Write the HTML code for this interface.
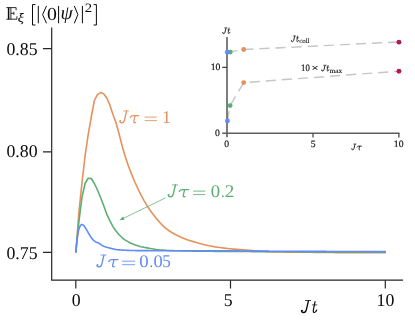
<!DOCTYPE html>
<html><head><meta charset="utf-8">
<style>
html,body{margin:0;padding:0;background:#fff;}
svg{display:block;}
text{font-family:"Liberation Serif",serif;text-rendering:geometricPrecision;}
.i{font-style:italic;}
</style></head>
<body>
<svg width="415" height="323" viewBox="0 0 415 323">
<defs><filter id="f" x="0" y="0" width="415" height="323" filterUnits="userSpaceOnUse"><feOffset dx="0" dy="0"/></filter></defs>
<rect width="415" height="323" fill="#fff"/>
<g filter="url(#f)">

<!-- main axes spines -->
<g stroke="#262626" stroke-width="1.2" fill="none" stroke-linecap="butt">
  <path d="M51.7,27.6 V280.2 H403.1"/>
  <path d="M43,48.7 H51.7 M43,151.8 H51.7 M43,252.3 H51.7"/>
  <path d="M75.8,280.2 V288.4 M230.5,280.2 V288.4 M385.3,280.2 V288.4"/>
</g>

<!-- curves -->
<g fill="none" stroke-width="1.6" stroke-linejoin="round" stroke-linecap="butt">
  <path stroke="#e5915c" d="M75.80,252.30 L78.89,212.30 L81.99,182.50 L85.08,156.00 L88.18,134.70 L91.28,117.00 L94.37,100.50 L97.47,94.60 L100.56,92.60 L103.66,93.70 L106.75,98.00 L109.84,105.00 L112.94,114.50 L116.03,122.69 L119.13,134.00 L122.22,146.24 L125.32,156.74 L128.41,166.03 L131.51,174.16 L134.61,181.50 L137.70,188.26 L140.80,194.58 L143.89,200.39 L146.99,205.59 L150.08,210.26 L153.18,214.49 L156.27,218.36 L159.37,222.01 L162.46,225.34 L165.56,228.16 L168.65,230.48 L171.75,232.49 L174.84,234.25 L177.94,235.83 L181.03,237.24 L184.12,238.50 L187.22,239.64 L190.31,240.67 L193.41,241.63 L196.50,242.55 L199.60,243.44 L202.69,244.29 L205.79,245.04 L208.88,245.72 L211.98,246.32 L215.07,246.86 L218.17,247.33 L221.26,247.75 L224.36,248.14 L227.45,248.49 L230.55,248.82 L233.64,249.13 L236.74,249.42 L239.83,249.67 L242.93,249.91 L246.03,250.15 L249.12,250.39 L252.22,250.63 L255.31,250.85 L258.41,251.06 L261.50,251.26 L264.60,251.43 L267.69,251.58 L270.79,251.71 L273.88,251.83 L276.98,251.93 L280.07,252.00 L283.17,252.05 L286.26,252.09 L289.36,252.13 L292.45,252.17 L295.55,252.20 L298.64,252.22 L301.74,252.25 L304.83,252.27 L307.93,252.30 L311.02,252.32 L314.12,252.35 L317.21,252.37 L320.31,252.40 L323.40,252.44 L326.50,252.48 L329.59,252.52 L332.69,252.56 L335.78,252.58 L338.88,252.60 L341.97,252.60 L345.07,252.60 L348.16,252.60 L351.26,252.60 L354.35,252.60 L357.45,252.60 L360.54,252.60 L363.64,252.60 L366.73,252.60 L369.83,252.60 L372.92,252.60 L376.02,252.60 L379.11,252.60 L382.21,252.60 L385.80,252.60"/>
  <path stroke="#5cae74" d="M75.80,252.30 L78.89,222.00 L81.99,197.00 L85.08,183.50 L88.18,178.20 L91.28,178.50 L94.37,183.50 L97.47,190.00 L100.56,197.50 L103.66,205.50 L106.75,214.20 L109.84,220.69 L112.94,226.62 L116.03,231.02 L119.13,234.71 L122.22,237.78 L125.32,240.06 L128.41,241.94 L131.51,243.47 L134.61,244.77 L137.70,245.84 L140.80,246.67 L143.89,247.31 L146.99,247.88 L150.08,248.45 L153.18,249.00 L156.27,249.48 L159.37,249.86 L162.46,250.10 L165.56,250.30 L168.65,250.46 L171.75,250.59 L174.84,250.71 L177.94,250.80 L181.03,250.88 L184.12,250.95 L187.22,251.01 L190.31,251.07 L193.41,251.12 L196.50,251.16 L199.60,251.20 L202.69,251.23 L205.79,251.26 L208.88,251.29 L211.98,251.32 L215.07,251.34 L218.17,251.37 L221.26,251.39 L224.36,251.41 L227.45,251.43 L230.55,251.45 L233.64,251.47 L236.74,251.49 L239.83,251.51 L242.93,251.53 L246.03,251.54 L249.12,251.56 L252.22,251.58 L255.31,251.60 L258.41,251.61 L261.50,251.63 L264.60,251.65 L267.69,251.66 L270.79,251.68 L273.88,251.70 L276.98,251.71 L280.07,251.73 L283.17,251.74 L286.26,251.76 L289.36,251.77 L292.45,251.79 L295.55,251.80 L298.64,251.81 L301.74,251.83 L304.83,251.84 L307.93,251.85 L311.02,251.87 L314.12,251.88 L317.21,251.89 L320.31,251.90 L323.40,251.91 L326.50,251.92 L329.59,251.93 L332.69,251.95 L335.78,251.96 L338.88,251.97 L341.97,251.98 L345.07,251.99 L348.16,252.00 L351.26,252.01 L354.35,252.02 L357.45,252.03 L360.54,252.04 L363.64,252.04 L366.73,252.05 L369.83,252.06 L372.92,252.07 L376.02,252.08 L379.11,252.08 L382.21,252.09 L385.80,252.10"/>
  <path stroke="#628af8" d="M75.80,252.80 L75.86,252.11 L75.93,251.43 L75.99,250.74 L76.05,250.06 L76.12,249.37 L76.19,248.68 L76.25,248.00 L76.32,247.31 L76.39,246.63 L76.46,245.94 L76.52,245.26 L76.59,244.57 L76.66,243.88 L76.73,243.20 L76.80,242.51 L76.86,241.83 L76.93,241.14 L77.00,240.45 L77.07,239.77 L77.15,239.08 L77.23,238.40 L77.31,237.72 L77.40,237.03 L77.49,236.35 L77.58,235.67 L77.69,234.99 L77.80,234.30 L77.91,233.62 L78.03,232.95 L78.16,232.27 L78.30,231.60 L78.45,230.92 L78.61,230.25 L78.79,229.58 L78.99,228.92 L79.20,228.27 L79.44,227.62 L79.70,226.95 L80.00,226.30 L80.35,225.72 L80.77,225.23 L81.34,224.75 L81.97,224.50 L82.60,224.67 L83.22,225.07 L83.73,225.49 L84.17,226.03 L84.57,226.61 L84.96,227.19 L85.34,227.76 L85.71,228.34 L86.07,228.93 L86.42,229.52 L86.76,230.12 L87.10,230.73 L87.44,231.33 L87.78,231.93 L88.13,232.52 L88.48,233.11 L88.85,233.70 L89.21,234.30 L89.56,234.90 L89.92,235.50 L90.28,236.09 L90.65,236.68 L91.03,237.26 L91.43,237.82 L91.84,238.36 L92.27,238.87 L92.73,239.37 L93.22,239.86 L93.73,240.34 L94.27,240.80 L94.82,241.23 L95.39,241.62 L95.96,241.98 L96.57,242.28 L97.21,242.53 L97.87,242.77 L98.52,243.03 L99.13,243.32 L99.71,243.68 L100.27,244.09 L100.81,244.53 L101.36,244.96 L101.93,245.35 L102.52,245.67 L103.14,245.96 L103.78,246.23 L104.43,246.49 L105.08,246.72 L105.73,246.95 L106.39,247.15 L107.05,247.35 L107.71,247.53 L108.38,247.70 L109.05,247.87 L109.72,248.03 L110.39,248.19 L111.06,248.36 L111.73,248.53 L112.40,248.70 L113.08,248.87 L113.75,249.03 L114.42,249.19 L115.10,249.34 L115.78,249.47 L116.45,249.59 L117.13,249.69 L117.81,249.77 L118.49,249.82 L119.17,249.87 L119.85,249.92 L120.54,249.97 L121.22,250.01 L121.91,250.06 L122.59,250.10 L123.28,250.14 L123.97,250.18 L124.66,250.21 L125.35,250.25 L126.03,250.28 L126.72,250.31 L127.41,250.35 L128.10,250.37 L128.79,250.40 L129.49,250.43 L130.18,250.45 L130.87,250.47 L131.56,250.49 L132.25,250.51 L132.94,250.53 L133.63,250.54 L134.32,250.56 L135.01,250.57 L135.70,250.58 L136.39,250.59 L137.08,250.60 L137.77,250.60 L138.46,250.61 L139.15,250.61 L139.84,250.62 L140.52,250.62 L141.21,250.63 L141.90,250.63 L142.59,250.64 L143.28,250.64 L143.97,250.65 L144.66,250.65 L145.35,250.66 L146.04,250.66 L146.72,250.66 L147.41,250.67 L148.10,250.67 L148.79,250.67 L149.48,250.68 L150.17,250.68 L150.86,250.68 L151.55,250.68 L152.24,250.69 L152.93,250.69 L153.62,250.69 L154.30,250.69 L154.99,250.69 L155.68,250.70 L156.37,250.70 L157.06,250.70 L157.75,250.70 L158.44,250.70 L159.13,250.70 L159.82,250.70 L160.51,250.70 L161.19,250.70 L161.88,250.70 L162.57,250.70 L163.26,250.70 L163.95,250.70 L164.64,250.70 L165.33,250.70 L166.02,250.70 L166.71,250.70 L167.40,250.70 L168.08,250.70 L168.77,250.70 L169.46,250.70 L170.15,250.70 L170.84,250.70 L171.53,250.70 L172.22,250.70 L172.91,250.70 L173.60,250.70 L174.29,250.70 L174.97,250.70 L175.66,250.70 L176.35,250.70 L177.04,250.70 L177.73,250.70 L178.42,250.70 L179.11,250.70 L179.80,250.70 L180.49,250.70 L181.18,250.70 L181.86,250.70 L182.55,250.70 L183.24,250.70 L183.93,250.70 L184.62,250.70 L185.31,250.70 L186.00,250.70 L186.69,250.70 L187.38,250.70 L188.07,250.70 L188.75,250.70 L189.44,250.70 L190.13,250.70 L190.82,250.70 L191.51,250.70 L192.20,250.70 L192.89,250.70 L193.58,250.70 L194.27,250.70 L194.95,250.70 L195.64,250.70 L196.33,250.70 L197.02,250.70 L197.71,250.70 L198.40,250.70 L199.09,250.70 L199.78,250.70 L200.47,250.70 L201.16,250.70 L201.84,250.70 L202.53,250.70 L203.22,250.70 L203.91,250.70 L204.60,250.70 L205.29,250.70 L205.98,250.70 L206.67,250.70 L207.36,250.70 L208.05,250.70 L208.73,250.70 L209.42,250.70 L210.11,250.70 L210.80,250.70 L211.49,250.70 L212.18,250.70 L212.87,250.70 L213.56,250.70 L214.25,250.70 L214.94,250.70 L215.62,250.70 L216.31,250.70 L217.00,250.70 L217.69,250.70 L218.38,250.70 L219.07,250.71 L219.76,250.71 L220.45,250.71 L221.14,250.71 L221.82,250.72 L222.51,250.72 L223.20,250.73 L223.89,250.73 L224.58,250.74 L225.27,250.74 L225.96,250.75 L226.65,250.76 L227.34,250.76 L228.03,250.77 L228.71,250.78 L229.40,250.79 L230.09,250.79 L230.78,250.80 L231.47,250.81 L232.16,250.82 L232.85,250.83 L233.54,250.83 L234.23,250.84 L234.91,250.85 L235.60,250.86 L236.29,250.87 L236.98,250.88 L237.67,250.89 L238.36,250.90 L239.05,250.91 L239.74,250.92 L240.43,250.93 L241.12,250.94 L241.80,250.95 L242.49,250.96 L243.18,250.96 L243.87,250.97 L244.56,250.98 L245.25,250.99 L245.94,251.00 L246.63,251.01 L247.32,251.02 L248.00,251.02 L248.69,251.03 L249.38,251.04 L250.07,251.05 L250.76,251.06 L251.45,251.06 L252.14,251.07 L252.83,251.08 L253.52,251.08 L254.21,251.09 L254.89,251.09 L255.58,251.10 L256.27,251.10 L256.96,251.11 L257.65,251.11 L258.34,251.12 L259.03,251.12 L259.72,251.12 L260.41,251.13 L261.10,251.13 L261.78,251.14 L262.47,251.14 L263.16,251.14 L263.85,251.15 L264.54,251.15 L265.23,251.16 L265.92,251.16 L266.61,251.16 L267.30,251.17 L267.98,251.17 L268.67,251.18 L269.36,251.18 L270.05,251.18 L270.74,251.19 L271.43,251.19 L272.12,251.19 L272.81,251.20 L273.50,251.20 L274.19,251.20 L274.87,251.21 L275.56,251.21 L276.25,251.21 L276.94,251.22 L277.63,251.22 L278.32,251.22 L279.01,251.23 L279.70,251.23 L280.39,251.23 L281.08,251.24 L281.76,251.24 L282.45,251.24 L283.14,251.25 L283.83,251.25 L284.52,251.25 L285.21,251.26 L285.90,251.26 L286.59,251.26 L287.28,251.27 L287.96,251.27 L288.65,251.27 L289.34,251.27 L290.03,251.28 L290.72,251.28 L291.41,251.28 L292.10,251.29 L292.79,251.29 L293.48,251.29 L294.17,251.30 L294.85,251.30 L295.54,251.30 L296.23,251.30 L296.92,251.31 L297.61,251.31 L298.30,251.31 L298.99,251.31 L299.68,251.32 L300.37,251.32 L301.06,251.32 L301.74,251.33 L302.43,251.33 L303.12,251.33 L303.81,251.33 L304.50,251.34 L305.19,251.34 L305.88,251.34 L306.57,251.35 L307.26,251.35 L307.95,251.35 L308.63,251.35 L309.32,251.36 L310.01,251.36 L310.70,251.36 L311.39,251.36 L312.08,251.37 L312.77,251.37 L313.46,251.37 L314.15,251.38 L314.84,251.38 L315.52,251.38 L316.21,251.38 L316.90,251.39 L317.59,251.39 L318.28,251.39 L318.97,251.40 L319.66,251.40 L320.35,251.40 L321.04,251.40 L321.72,251.41 L322.41,251.41 L323.10,251.41 L323.79,251.42 L324.48,251.42 L325.17,251.42 L325.86,251.42 L326.55,251.43 L327.24,251.43 L327.93,251.43 L328.61,251.44 L329.30,251.44 L329.99,251.44 L330.68,251.44 L331.37,251.45 L332.06,251.45 L332.75,251.45 L333.44,251.46 L334.13,251.46 L334.82,251.46 L335.50,251.46 L336.19,251.47 L336.88,251.47 L337.57,251.47 L338.26,251.47 L338.95,251.48 L339.64,251.48 L340.33,251.48 L341.02,251.49 L341.71,251.49 L342.39,251.49 L343.08,251.49 L343.77,251.50 L344.46,251.50 L345.15,251.50 L345.84,251.50 L346.53,251.51 L347.22,251.51 L347.91,251.51 L348.60,251.52 L349.28,251.52 L349.97,251.52 L350.66,251.52 L351.35,251.53 L352.04,251.53 L352.73,251.53 L353.42,251.53 L354.11,251.54 L354.80,251.54 L355.48,251.54 L356.17,251.54 L356.86,251.55 L357.55,251.55 L358.24,251.55 L358.93,251.55 L359.62,251.56 L360.31,251.56 L361.00,251.56 L361.69,251.56 L362.37,251.57 L363.06,251.57 L363.75,251.57 L364.44,251.58 L365.13,251.58 L365.82,251.58 L366.51,251.58 L367.20,251.59 L367.89,251.59 L368.58,251.59 L369.26,251.59 L369.95,251.60 L370.64,251.60 L371.33,251.60 L372.02,251.60 L372.71,251.60 L373.40,251.61 L374.09,251.61 L374.78,251.61 L375.47,251.61 L376.15,251.62 L376.84,251.62 L377.53,251.62 L378.22,251.62 L378.91,251.63 L379.60,251.63 L380.29,251.63 L380.98,251.63 L381.67,251.64 L382.36,251.64 L383.04,251.64 L383.73,251.64 L384.42,251.65 L385.11,251.65 L385.80,251.65"/>
</g>

<!-- arrow -->
<g stroke="#5cae74" fill="#5cae74">
  <path d="M165.5,197.9 L123.0,218.5" stroke-width="0.75" fill="none"/>
  <path d="M119.5,220.2 L123.05,216.5 L124.6,219.7 Z" stroke="none"/>
</g>

<!-- tick labels / title -->
<text transform="translate(37.60,54.90) scale(1.030,1.040)" font-size="17.3" text-anchor="end" fill="#0a0a0a">0.85</text>
<text transform="translate(37.60,157.20) scale(1.030,1.040)" font-size="17.3" text-anchor="end" fill="#0a0a0a">0.80</text>
<text transform="translate(37.60,258.60) scale(1.030,1.040)" font-size="17.3" text-anchor="end" fill="#0a0a0a">0.75</text>
<text transform="translate(76.10,306.10) scale(1.030,1.040)" font-size="17.3" text-anchor="middle" fill="#0a0a0a">0</text>
<text transform="translate(228.20,306.10) scale(1.030,1.040)" font-size="17.3" text-anchor="middle" fill="#0a0a0a">5</text>
<text transform="translate(385.40,306.10) scale(1.030,1.040)" font-size="17.3" text-anchor="middle" fill="#0a0a0a">10</text>
<g transform="translate(301.00,312.50) scale(1.031,1.042)" stroke="#0a0a0a" fill="none" stroke-linecap="round" stroke-linejoin="round"><path d="M4.3,-11.5 H9.4" stroke-width="0.73"/><path d="M7.25,-11.4 L5.25,-2.9 C4.75,-0.8 3.7,0 2.5,0 C1.3,0 0.45,-0.7 0.45,-1.7" stroke-width="1.29"/><circle cx="1.15" cy="-1.9" r="0.79" fill="#0a0a0a" stroke="none"/></g><g transform="translate(312.30,312.50) scale(1.000)" stroke="#0a0a0a" fill="none" stroke-linecap="round" stroke-linejoin="round"><path d="M0.2,-7.6 H4.5" stroke-width="0.73"/><path d="M2.75,-11.0 L1.05,-2.3 C0.8,-0.8 1.2,0 2.1,0 C3.1,0 3.9,-1.0 4.4,-2.5" stroke-width="1.18"/></g>
<g stroke="#0a0a0a" fill="none"><path d="M6.4,7.6 H16.1 V10.3 M6.4,19.2 H16.9 V16.3 M10.9,7.6 V19.2 M10.9,13.3 H13.9 M13.9,11.7 V14.9" stroke-width="0.85"/><path d="M8.6,7.6 V19.2" stroke-width="1.5"/></g>
<text stroke="#0a0a0a" stroke-width="0.12" transform="translate(17.71,22.05) scale(1.119,1.022)" font-size="12.6" font-style="italic" fill="#0a0a0a">ξ</text>
<g stroke="#0a0a0a" fill="none" stroke-width="1.0"><path d="M35.5,4.6 H32.5 V25.0 H35.5"/><path d="M38.3,5.9 V23.3"/><path d="M46.5,5.9 L42.6,14.6 L46.5,23.3"/><path d="M58.6,5.9 V23.3"/><path d="M74.3,5.9 L77.9,14.6 L74.3,23.3"/><path d="M82.4,5.9 V23.3"/><path d="M93.6,4.6 H96.4 V25.0 H93.6"/></g>
<text transform="translate(47.01,19.75) scale(1.142,1.056)" font-size="17.3" fill="#0a0a0a">0</text>
<text transform="translate(60.52,19.00) scale(1.034,1.000)" font-size="19.0" font-style="italic" fill="#0a0a0a">ψ</text>
<text transform="translate(84.64,11.80) scale(1.171,1.010)" font-size="12.6" fill="#0a0a0a">2</text>

<!-- curve labels -->
<g id="labels">
  <g transform="translate(119.30,122.80) scale(1.000,1.034)" stroke="#e5915c" fill="none" stroke-linecap="round" stroke-linejoin="round"><path d="M4.3,-11.5 H9.4" stroke-width="0.73"/><path d="M7.25,-11.4 L5.25,-2.9 C4.75,-0.8 3.7,0 2.5,0 C1.3,0 0.45,-0.7 0.45,-1.7" stroke-width="1.29"/><circle cx="1.15" cy="-1.9" r="0.79" fill="#e5915c" stroke="none"/></g>
  <g transform="translate(129.90,122.80) scale(1.000,1.000)" stroke="#e5915c" fill="none" stroke-linecap="round" stroke-linejoin="round"><path d="M0.35,-5.4 C1.1,-7.0 2.0,-7.25 3.3,-7.25 H8.8" stroke-width="1.23"/><path d="M5.2,-7.2 L3.95,-1.5 C3.75,-0.5 4.1,0 4.7,0 C5.0,0 5.3,-0.1 5.5,-0.3" stroke-width="1.18"/></g>
  <path d="M144.6,117.10 H156.9 M144.6,120.60 H156.9" stroke="#e5915c" stroke-width="0.85" fill="none"/>
  <text transform="translate(161.98,122.80) scale(1.040,1.041)" font-size="17.3" fill="#e5915c">1</text>
  <g transform="translate(167.70,196.80) scale(1.062,1.034)" stroke="#5cae74" fill="none" stroke-linecap="round" stroke-linejoin="round"><path d="M4.3,-11.5 H9.4" stroke-width="0.73"/><path d="M7.25,-11.4 L5.25,-2.9 C4.75,-0.8 3.7,0 2.5,0 C1.3,0 0.45,-0.7 0.45,-1.7" stroke-width="1.29"/><circle cx="1.15" cy="-1.9" r="0.79" fill="#5cae74" stroke="none"/></g>
  <g transform="translate(178.90,196.80) scale(1.099,1.000)" stroke="#5cae74" fill="none" stroke-linecap="round" stroke-linejoin="round"><path d="M0.35,-5.4 C1.1,-7.0 2.0,-7.25 3.3,-7.25 H8.8" stroke-width="1.23"/><path d="M5.2,-7.2 L3.95,-1.5 C3.75,-0.5 4.1,0 4.7,0 C5.0,0 5.3,-0.1 5.5,-0.3" stroke-width="1.18"/></g>
  <path d="M193.1,191.10 H205.3 M193.1,194.60 H205.3" stroke="#5cae74" stroke-width="0.85" fill="none"/>
  <text transform="translate(210.85,196.80) scale(1.087,1.026)" font-size="17.3" fill="#5cae74">0</text>
  <text transform="translate(220.98,196.80) scale(0.819,1.000)" font-size="17.3" fill="#5cae74">.</text>
  <text transform="translate(224.63,196.80) scale(1.113,1.033)" font-size="17.3" fill="#5cae74">2</text>
  <g transform="translate(96.50,266.90) scale(1.021,1.034)" stroke="#628af8" fill="none" stroke-linecap="round" stroke-linejoin="round"><path d="M4.3,-11.5 H9.4" stroke-width="0.73"/><path d="M7.25,-11.4 L5.25,-2.9 C4.75,-0.8 3.7,0 2.5,0 C1.3,0 0.45,-0.7 0.45,-1.7" stroke-width="1.29"/><circle cx="1.15" cy="-1.9" r="0.79" fill="#628af8" stroke="none"/></g>
  <g transform="translate(108.40,266.90) scale(1.077,1.000)" stroke="#628af8" fill="none" stroke-linecap="round" stroke-linejoin="round"><path d="M0.35,-5.4 C1.1,-7.0 2.0,-7.25 3.3,-7.25 H8.8" stroke-width="1.23"/><path d="M5.2,-7.2 L3.95,-1.5 C3.75,-0.5 4.1,0 4.7,0 C5.0,0 5.3,-0.1 5.5,-0.3" stroke-width="1.18"/></g>
  <path d="M122.1,261.20 H135.1 M122.1,264.70 H135.1" stroke="#628af8" stroke-width="0.85" fill="none"/>
  <text transform="translate(139.35,266.90) scale(1.087,1.026)" font-size="17.3" fill="#628af8">0</text>
  <text transform="translate(149.48,266.90) scale(0.819,1.000)" font-size="17.3" fill="#628af8">.</text>
  <text transform="translate(153.56,266.90) scale(1.073,1.026)" font-size="17.3" fill="#628af8">0</text>
  <text transform="translate(162.27,266.90) scale(0.997,1.041)" font-size="17.3" fill="#628af8">5</text>
</g>

<!-- inset -->
<g id="inset">
  <g fill="none" stroke="#c6c6c6" stroke-width="1.45" stroke-dasharray="10.2 5.9">
    <path d="M227.4,52.2 L230.6,51.9 L243.7,49.5 L398.7,42.0"/>
    <path d="M227.4,120.9 L230.1,105.6 L243.7,82.6 L398.7,71.2"/>
  </g>
  <g fill="none">
    <path d="M227,37 V137.3" stroke-width="1.6" stroke="#5e5e5e"/>
    <path d="M222.2,133.2 H399.5" stroke-width="1.6" stroke="#5e5e5e"/>
    <path d="M222.2,67.4 H227 M313,133.2 V137.4 M398.9,133.2 V137.4" stroke-width="1.2" stroke="#404040"/>
  </g>
  <circle cx="230.3" cy="52.1" r="2.45" fill="#5cae74"/>
  <circle cx="227.4" cy="52.2" r="2.45" fill="#628af8"/>
  <circle cx="243.7" cy="49.5" r="2.45" fill="#e5915c"/>
  <circle cx="398.95" cy="42.15" r="2.45" fill="#b0185a"/>
  <circle cx="230.1" cy="105.6" r="2.45" fill="#5cae74"/>
  <circle cx="227.4" cy="120.9" r="2.45" fill="#628af8"/>
  <circle cx="243.7" cy="82.6" r="2.45" fill="#e5915c"/>
  <circle cx="398.95" cy="71.3" r="2.45" fill="#b0185a"/>

  <g transform="translate(222.40,33.60) scale(0.500,0.500)" stroke="#0a0a0a" fill="none" stroke-linecap="round" stroke-linejoin="round"><path d="M4.3,-11.5 H9.4" stroke-width="1.01"/><path d="M7.25,-11.4 L5.25,-2.9 C4.75,-0.8 3.7,0 2.5,0 C1.3,0 0.45,-0.7 0.45,-1.7" stroke-width="1.78"/><circle cx="1.15" cy="-1.9" r="0.93" fill="#0a0a0a" stroke="none"/></g><g transform="translate(227.65,33.60) scale(0.500)" stroke="#0a0a0a" fill="none" stroke-linecap="round" stroke-linejoin="round"><path d="M0.2,-7.6 H4.5" stroke-width="1.01"/><path d="M2.75,-11.0 L1.05,-2.3 C0.8,-0.8 1.2,0 2.1,0 C3.1,0 3.9,-1.0 4.4,-2.5" stroke-width="1.63"/></g><g transform="translate(291.10,41.70) scale(0.500,0.500)" stroke="#0a0a0a" fill="none" stroke-linecap="round" stroke-linejoin="round"><path d="M4.3,-11.5 H9.4" stroke-width="1.01"/><path d="M7.25,-11.4 L5.25,-2.9 C4.75,-0.8 3.7,0 2.5,0 C1.3,0 0.45,-0.7 0.45,-1.7" stroke-width="1.78"/><circle cx="1.15" cy="-1.9" r="0.93" fill="#0a0a0a" stroke="none"/></g><g transform="translate(296.35,41.70) scale(0.500)" stroke="#0a0a0a" fill="none" stroke-linecap="round" stroke-linejoin="round"><path d="M0.2,-7.6 H4.5" stroke-width="1.01"/><path d="M2.75,-11.0 L1.05,-2.3 C0.8,-0.8 1.2,0 2.1,0 C3.1,0 3.9,-1.0 4.4,-2.5" stroke-width="1.63"/></g><g transform="translate(321.40,71.00) scale(0.500,0.500)" stroke="#0a0a0a" fill="none" stroke-linecap="round" stroke-linejoin="round"><path d="M4.3,-11.5 H9.4" stroke-width="1.01"/><path d="M7.25,-11.4 L5.25,-2.9 C4.75,-0.8 3.7,0 2.5,0 C1.3,0 0.45,-0.7 0.45,-1.7" stroke-width="1.78"/><circle cx="1.15" cy="-1.9" r="0.93" fill="#0a0a0a" stroke="none"/></g><g transform="translate(326.65,71.00) scale(0.500)" stroke="#0a0a0a" fill="none" stroke-linecap="round" stroke-linejoin="round"><path d="M0.2,-7.6 H4.5" stroke-width="1.01"/><path d="M2.75,-11.0 L1.05,-2.3 C0.8,-0.8 1.2,0 2.1,0 C3.1,0 3.9,-1.0 4.4,-2.5" stroke-width="1.63"/></g><g transform="translate(351.40,149.80) scale(0.500,0.500)" stroke="#0a0a0a" fill="none" stroke-linecap="round" stroke-linejoin="round"><path d="M4.3,-11.5 H9.4" stroke-width="1.01"/><path d="M7.25,-11.4 L5.25,-2.9 C4.75,-0.8 3.7,0 2.5,0 C1.3,0 0.45,-0.7 0.45,-1.7" stroke-width="1.78"/><circle cx="1.15" cy="-1.9" r="0.93" fill="#0a0a0a" stroke="none"/></g><g transform="translate(357.00,149.80) scale(0.500,0.500)" stroke="#0a0a0a" fill="none" stroke-linecap="round" stroke-linejoin="round"><path d="M0.35,-5.4 C1.1,-7.0 2.0,-7.25 3.3,-7.25 H8.8" stroke-width="1.71"/><path d="M5.2,-7.2 L3.95,-1.5 C3.75,-0.5 4.1,0 4.7,0 C5.0,0 5.3,-0.1 5.5,-0.3" stroke-width="1.63"/></g>
  <g font-size="9.7" fill="#0a0a0a" stroke="#0a0a0a" stroke-width="0.15">
    <text x="220.4" y="70.2" text-anchor="end">10</text>
    <text x="219.9" y="136.4" text-anchor="end">0</text>
    <text x="226.6" y="147.2" text-anchor="middle">0</text>
    <text x="313.1" y="147.2" text-anchor="middle">5</text>
    <text x="398.7" y="147.2" text-anchor="middle">10</text>
    <text font-size="6.8" x="299.2" y="43.2" textLength="10.3" lengthAdjust="spacingAndGlyphs" stroke-width="0.08">coll</text>
    <text x="301.1" y="71" textLength="8.7" lengthAdjust="spacingAndGlyphs">10</text>
    <text transform="translate(311.61,71.20) scale(1.273,1.000)" font-size="9.7" fill="#0a0a0a">×</text>
    <text font-size="6.8" x="329.4" y="72.5" textLength="12.8" lengthAdjust="spacingAndGlyphs" stroke-width="0.08">max</text>
  </g>
</g>
</g>
</svg>
</body></html>
